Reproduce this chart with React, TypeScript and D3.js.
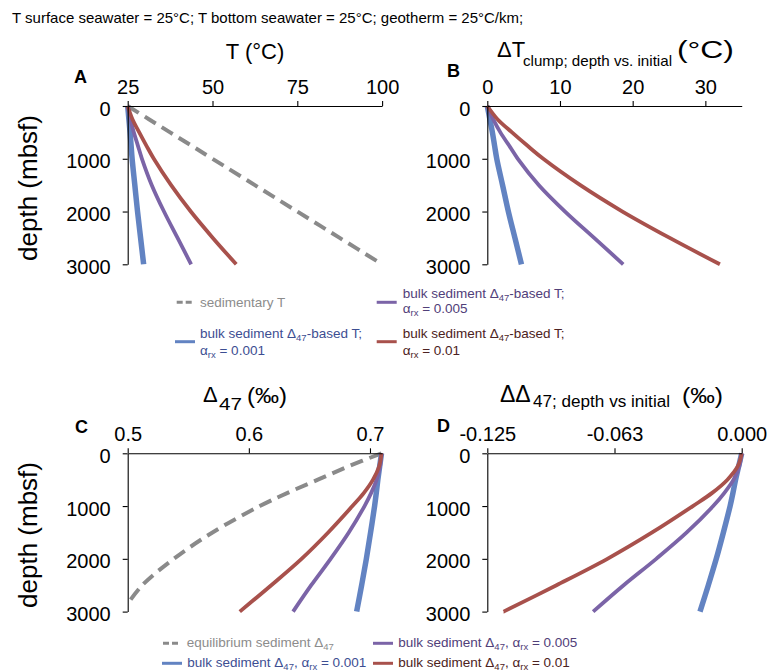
import React, { useEffect, useRef } from 'react';
import * as d3 from 'd3';

// depth below seafloor (m)
const depth = [0, 250, 500, 750, 1000, 1500, 2000, 2500, 3000];
const depthEq = [0, 250, 500, 750, 1000, 1500, 2000, 2500, 2850];

// panel A: temperature (°C)
const sedimentaryT = [25, 31.25, 37.5, 43.75, 50, 62.5, 75, 87.5, 100];
const tempRx001 = [25, 25.35, 25.7, 26.0, 26.3, 27.1, 27.9, 28.8, 29.7];
const tempRx005 = [25, 25.8, 26.8, 28.0, 29.2, 32.1, 35.7, 39.7, 43.7];
const tempRx01 = [25, 26.4, 28.4, 30.5, 32.7, 37.8, 43.6, 50.1, 57.0];

// panel B: ΔT clump (°C)
const dTRx001 = [0, 0.35, 0.7, 1.0, 1.3, 2.1, 2.9, 3.8, 4.7];
const dTRx005 = [0, 0.8, 1.8, 3.0, 4.2, 7.1, 10.7, 14.7, 18.7];
const dTRx01 = [0, 1.4, 3.4, 5.5, 7.7, 12.8, 18.6, 25.1, 32.0];

// panel C: Δ47 (‰)
const eqD47 = [0.7095, 0.682, 0.657, 0.632, 0.609, 0.57, 0.538, 0.512, 0.5];
const d47Rx001 = [0.7095, 0.708, 0.7065, 0.7052, 0.7038, 0.7005, 0.697, 0.6931, 0.689];
const d47Rx005 = [0.7095, 0.7083, 0.7055, 0.701, 0.6955, 0.6825, 0.6675, 0.6515, 0.6365];
const d47Rx01 = [0.7095, 0.7075, 0.7025, 0.695, 0.6855, 0.6655, 0.6435, 0.6185, 0.5925];

// panel D: ΔΔ47 (‰)
const dd47Rx001 = [0, -0.0015, -0.003, -0.0043, -0.0057, -0.009, -0.0125, -0.0164, -0.0205];
const dd47Rx005 = [0, -0.0012, -0.004, -0.0085, -0.014, -0.027, -0.042, -0.058, -0.073];
const dd47Rx01 = [0, -0.002, -0.007, -0.0145, -0.024, -0.044, -0.066, -0.091, -0.117];

const depthTicks = [0, 1000, 2000, 3000];
const tTicks = [25, 50, 75, 100];
const dTTicks = [0, 10, 20, 30];
const d47Ticks = [0.5, 0.6, 0.7];
const d47Labels = ['0.5', '0.6', '0.7'];
const dd47Ticks = [-0.125, -0.0625, 0];
const dd47Labels = ['-0.125', '-0.063', '0.000'];

const FONT = "'Liberation Sans', Arial, Helvetica, sans-serif";
const GRAY = '#8a8a8a';
const BLUE = '#6283c2';
const PURPLE = '#7b64a7';
const RED = '#a8514c';

const App = () => {
  const svgRef = useRef(null);

  useEffect(() => {
    if (!svgRef.current) return;
    const svg = d3.select(svgRef.current);
    svg.selectAll('*').remove();

    const width = 770;
    const height = 671;
    svg.attr('width', width).attr('height', height);

    const plotW = 254.4;
    const plotH = 158.3;

    // header
    svg.append('text')
      .attr('x', 12)
      .attr('y', 22.5)
      .attr('font-family', FONT)
      .attr('font-size', '15px')
      .attr('fill', '#000')
      .text('T surface seawater = 25°C; T bottom seawater = 25°C; geotherm = 25°C/km;');

    const drawPanel = (left, top, domain, ticks, labels, series) => {
      const x = d3.scaleLinear().domain(domain).range([left, left + plotW]);
      const y = d3.scaleLinear().domain([0, 3000]).range([top, top + plotH]);

      series.forEach(s => {
        const line = d3.line()
          .x(d => x(d[1]))
          .y(d => y(d[0]))
          .curve(d3.curveCatmullRom.alpha(0.5));
        svg.append('path')
          .datum(d3.zip(s.depth, s.values))
          .attr('d', line)
          .attr('fill', 'none')
          .attr('stroke', s.color)
          .attr('stroke-width', s.width)
          .attr('stroke-dasharray', s.dash || null)
          .attr('stroke-linecap', 'butt');
      });

      const xAxis = svg.append('g')
        .attr('transform', `translate(0,${top})`)
        .call(d3.axisTop(x)
          .tickValues(ticks)
          .tickFormat((d, i) => labels[i])
          .tickSize(5)
          .tickSizeOuter(0)
          .tickPadding(7));

      const yAxis = svg.append('g')
        .attr('transform', `translate(${left},0)`)
        .call(d3.axisLeft(y)
          .tickValues(depthTicks)
          .tickFormat(d3.format('d'))
          .tickSize(5)
          .tickSizeOuter(0)
          .tickPadding(12));

      [xAxis, yAxis].forEach(a => {
        a.attr('font-family', FONT).attr('font-size', '20px');
        a.selectAll('text').attr('fill', '#000');
        a.selectAll('line, path').attr('stroke', '#000').attr('stroke-width', 1.1);
      });
      yAxis.selectAll('text').attr('dy', '0.45em');
    };

    drawPanel(127.7, 106, [25, 100], tTicks, tTicks.map(String), [
      { depth, values: sedimentaryT, color: GRAY, width: 4, dash: '13,7' },
      { depth, values: tempRx001, color: BLUE, width: 5.5 },
      { depth, values: tempRx005, color: PURPLE, width: 3.8 },
      { depth, values: tempRx01, color: RED, width: 3.8 }
    ]);

    drawPanel(487.3, 106, [0, 35], dTTicks, dTTicks.map(String), [
      { depth, values: dTRx001, color: BLUE, width: 5.5 },
      { depth, values: dTRx005, color: PURPLE, width: 3.8 },
      { depth, values: dTRx01, color: RED, width: 3.8 }
    ]);

    drawPanel(127.7, 453.3, [0.5, 0.71], d47Ticks, d47Labels, [
      { depth: depthEq, values: eqD47, color: GRAY, width: 4, dash: '13,7' },
      { depth, values: d47Rx001, color: BLUE, width: 5.5 },
      { depth, values: d47Rx005, color: PURPLE, width: 3.8 },
      { depth, values: d47Rx01, color: RED, width: 3.8 }
    ]);

    drawPanel(487.3, 453.3, [-0.125, 0], dd47Ticks, dd47Labels, [
      { depth, values: dd47Rx001, color: BLUE, width: 5.5 },
      { depth, values: dd47Rx005, color: PURPLE, width: 3.8 },
      { depth, values: dd47Rx01, color: RED, width: 3.8 }
    ]);

    // panel letters
    [['A', 74, 83], ['B', 447, 77], ['C', 75, 433], ['D', 437, 432]].forEach(([t, px, py]) => {
      svg.append('text')
        .attr('x', px).attr('y', py)
        .attr('font-family', FONT)
        .attr('font-size', '18px')
        .attr('font-weight', 'bold')
        .text(t);
    });

    // y axis titles
    [188, 535].forEach(cy => {
      svg.append('text')
        .attr('transform', `translate(37,${cy}) rotate(-90)`)
        .attr('text-anchor', 'middle')
        .attr('font-family', FONT)
        .attr('font-size', '26px')
        .text('depth (mbsf)');
    });

    // x axis titles
    const title = (tx, ty, txt, size, len) => {
      const t = svg.append('text')
        .attr('x', tx).attr('y', ty)
        .attr('font-family', FONT)
        .attr('font-size', size + 'px')
        .text(txt);
      if (len) t.attr('textLength', len).attr('lengthAdjust', 'spacingAndGlyphs');
      return t;
    };

    svg.append('text')
      .attr('x', 255).attr('y', 59)
      .attr('text-anchor', 'middle')
      .attr('font-family', FONT)
      .attr('font-size', '22px')
      .text('T (°C)');

    title(497, 57, 'ΔT', 22);
    title(523, 66, 'clump; depth vs. initial', 15, 149);
    title(677, 58, '(°C)', 23, 57);

    title(203, 402, 'Δ', 22);
    title(219, 410, '47', 17, 23);
    title(247, 403, '(‰)', 22, 40);

    title(500, 402, 'ΔΔ', 23);
    title(533, 407, '47; depth vs initial', 16, 137);
    title(682, 403, '(‰)', 22, 41);

    // legends
    const legendSwatch = (x1, x2, ly, color, dash, w) => {
      svg.append('line')
        .attr('x1', x1).attr('x2', x2).attr('y1', ly).attr('y2', ly)
        .attr('stroke', color).attr('stroke-width', w || 3)
        .attr('stroke-dasharray', dash || null);
    };
    const legendText = (lx, ly, color, parts) => {
      const t = svg.append('text')
        .attr('x', lx).attr('y', ly)
        .attr('font-family', FONT)
        .attr('font-size', '13.5px')
        .attr('fill', color);
      let shift = 0;
      parts.forEach(p => {
        const isSub = typeof p !== 'string';
        const txt = isSub ? p.sub : p;
        const target = isSub ? 3 : 0;
        const sp = t.append('tspan').attr('dy', target - shift).text(txt);
        if (isSub) sp.attr('font-size', '9.5px');
        shift = target;
      });
    };

    const TXT_GRAY = '#8c8c8c';
    const TXT_BLUE = '#3d4e92';
    const TXT_PURPLE = '#514079';
    const TXT_RED = '#4c2222';

    legendSwatch(176.7, 193.3, 302.3, GRAY, '6,3');
    legendText(200, 307.3, TXT_GRAY, ['sedimentary T']);

    legendSwatch(175, 195, 341.7, BLUE);
    legendText(200, 337.7, TXT_BLUE, ['bulk sediment Δ', { sub: '47' }, '-based T;']);
    legendText(200, 355, TXT_BLUE, ['α', { sub: 'rx' }, ' = 0.001']);

    legendSwatch(376.7, 396.7, 302.3, PURPLE);
    legendText(402.7, 298.3, TXT_PURPLE, ['bulk sediment Δ', { sub: '47' }, '-based T;']);
    legendText(402.7, 313.3, TXT_PURPLE, ['α', { sub: 'rx' }, ' = 0.005']);

    legendSwatch(376.7, 396.7, 341.7, RED);
    legendText(402.7, 337.7, TXT_RED, ['bulk sediment Δ', { sub: '47' }, '-based T;']);
    legendText(402.7, 355, TXT_RED, ['α', { sub: 'rx' }, ' = 0.01']);

    legendSwatch(163, 180, 643.3, GRAY, '6,3');
    legendText(186.7, 647.3, TXT_GRAY, ['equilibrium sediment Δ', { sub: '47' }]);

    legendSwatch(373, 393, 643.3, PURPLE);
    legendText(398.3, 647.3, TXT_PURPLE, ['bulk sediment Δ', { sub: '47' }, ', α', { sub: 'rx' }, ' = 0.005']);

    legendSwatch(162, 182, 663.3, BLUE);
    legendText(187.3, 667.3, TXT_BLUE, ['bulk sediment Δ', { sub: '47' }, ', α', { sub: 'rx' }, ' = 0.001']);

    legendSwatch(373, 393, 663.3, RED);
    legendText(398.3, 667.3, TXT_RED, ['bulk sediment Δ', { sub: '47' }, ', α', { sub: 'rx' }, ' = 0.01']);
  }, []);

  return (
    <div style={{ position: 'absolute', left: 0, top: 0, background: '#fff' }}>
      <svg ref={svgRef} style={{ display: 'block' }}></svg>
    </div>
  );
};

export default App;
